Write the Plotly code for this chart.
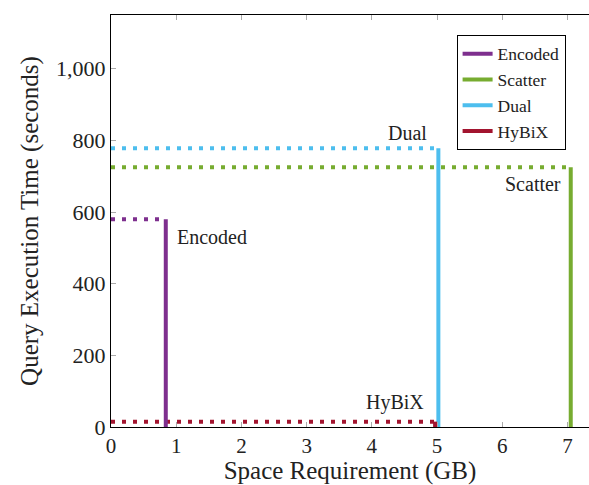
import plotly.graph_objects as go

# Space requirement (GB) and query execution time (s) for each index layout
methods = ["Encoded", "Scatter", "Dual", "HyBiX"]
space_gb = [0.84, 7.05, 5.02, 4.97]
query_time_s = [580, 725, 778, 15]
colors = ["#7E2F8E", "#77AC30", "#4DBEEE", "#A2142F"]

# label placement: (x anchor, y anchor, xshift, yshift)
label_pos = {
    "Encoded": ("left", "middle", 9, -18),
    "Scatter": ("right", "middle", -8, -17),
    "Dual": ("right", "middle", -9, 15),
    "HyBiX": ("right", "middle", -9, 19),
}

FONT = "Liberation Serif"

fig = go.Figure()

for name, x, y, c in zip(methods, space_gb, query_time_s, colors):
    # dotted guide from the y axis to the method's point
    fig.add_trace(go.Scatter(
        x=[0, x], y=[y, y], mode="lines", showlegend=False, hoverinfo="skip",
        line=dict(color=c, width=4, dash="4px,7px"),
    ))
for name, x, y, c in zip(methods, space_gb, query_time_s, colors):
    # solid drop line from the point down to the x axis
    fig.add_trace(go.Scatter(
        x=[x, x], y=[0, y], mode="lines", name=name,
        line=dict(color=c, width=4),
    ))

for name, x, y in zip(methods, space_gb, query_time_s):
    xa, ya, xs, ys = label_pos[name]
    fig.add_annotation(
        x=x, y=y, text=name, showarrow=False, xanchor=xa, yanchor=ya,
        xshift=xs, yshift=ys, font=dict(family=FONT, size=20, color="#222"),
    )

fig.update_layout(
    width=589, height=485,
    margin=dict(l=111, r=0, t=15, b=58),
    paper_bgcolor="white", plot_bgcolor="white",
    font=dict(family=FONT, size=21, color="#222"),
    showlegend=True,
    legend=dict(
        x=0.723, y=0.952, xanchor="left", yanchor="top",
        bordercolor="black", borderwidth=1, bgcolor="white",
        font=dict(family=FONT, size=17.5), itemwidth=30,
        tracegroupgap=0,
    ),
)

fig.update_xaxes(
    range=[0, 7.33], tickvals=[0, 1, 2, 3, 4, 5, 6, 7],
    showgrid=False, zeroline=False,
    showline=True, linecolor="black", linewidth=1.3, mirror="ticks",
    ticks="inside", ticklen=5, tickcolor="#aaa", tickwidth=1,
    title=dict(text="Space Requirement (GB)", standoff=10),
    tickfont=dict(size=21), ticklabelstandoff=0,
)
fig.update_yaxes(
    range=[0, 1150], tickvals=[0, 200, 400, 600, 800, 1000],
    tickformat=",d",
    showgrid=False, zeroline=False,
    showline=True, linecolor="black", linewidth=1.3,
    ticks="inside", ticklen=5, tickcolor="#aaa", tickwidth=1,
    title=dict(text="Query Execution Time (seconds)", standoff=10),
    tickfont=dict(size=22),
)

fig.write_html("out.html")
